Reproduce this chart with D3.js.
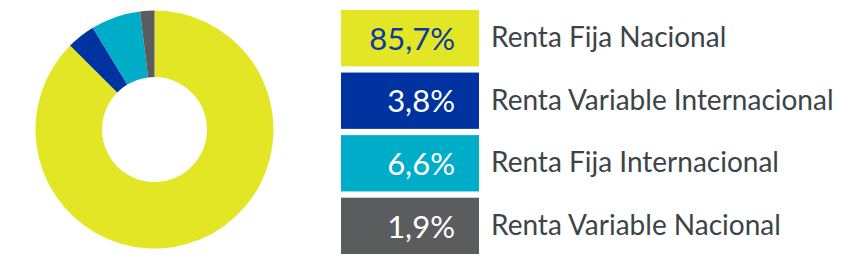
<!DOCTYPE html>
<html>
<head>
<meta charset="utf-8">
<script src="https://cdn.jsdelivr.net/npm/d3@7"></script>
<style>
  body { margin: 0; background: #fff; }
  svg { display: block; }
</style>
</head>
<body>
<svg id="chart"></svg>
<script>
// data
const categories = ['Renta Fija Nacional', 'Renta Variable Internacional', 'Renta Fija Internacional', 'Renta Variable Nacional'];
const values = [85.7, 3.8, 6.6, 1.9];
const valueLabels = ['85,7%', '3,8%', '6,6%', '1,9%'];
const colors = ['#e3e624', '#0033a0', '#00adc8', '#5b5c5e'];
const valueColors = ['#0d3aa0', '#ffffff', '#ffffff', '#ffffff'];

const width = 853, height = 267;
const svg = d3.select('#chart')
    .attr('width', width)
    .attr('height', height);

// donut
const pie = d3.pie().sort(null).value(d => d);
const arc = d3.arc().innerRadius(52.5).outerRadius(119);

const donut = svg.append('g')
    .attr('transform', 'translate(154.5,129.5)');

donut.selectAll('path')
  .data(pie(values))
  .join('path')
    .attr('d', arc)
    .attr('fill', (d, i) => colors[i]);

// legend
const y = d3.scaleBand()
    .domain(categories)
    .range([10, 254])
    .paddingInner(0.1);

const legend = svg.append('g');

legend.selectAll('rect')
  .data(categories)
  .join('rect')
    .attr('x', 341)
    .attr('y', d => y(d))
    .attr('width', 138)
    .attr('height', y.bandwidth())
    .attr('fill', (d, i) => colors[i]);

legend.selectAll('text.value')
  .data(categories)
  .join('text')
    .attr('class', 'value')
    .attr('x', 455)
    .attr('y', d => y(d) + y.bandwidth() / 2)
    .attr('dy', '0.38em')
    .attr('text-anchor', 'end')
    .attr('font-family', 'Lato, sans-serif')
    .attr('font-size', 31)
    .attr('fill', (d, i) => valueColors[i])
    .text((d, i) => valueLabels[i]);

legend.selectAll('text.label')
  .data(categories)
  .join('text')
    .attr('class', 'label')
    .attr('x', 491)
    .attr('y', d => y(d) + y.bandwidth() / 2)
    .attr('dy', '0.32em')
    .attr('font-family', 'Lato, sans-serif')
    .attr('font-size', 28)
    .attr('fill', '#3d4448')
    .text(d => d);
</script>
</body>
</html>
